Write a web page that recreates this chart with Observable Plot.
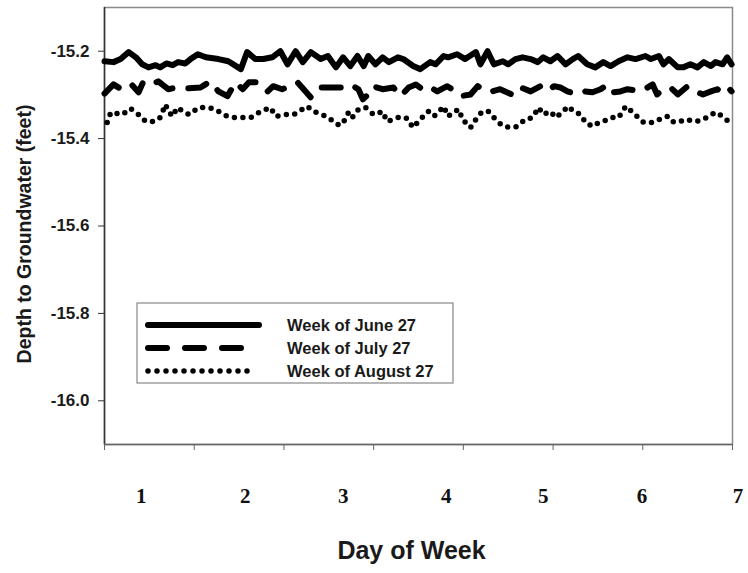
<!DOCTYPE html>
<html>
<head>
<meta charset="utf-8">
<script src="https://cdn.jsdelivr.net/npm/d3@7"></script>
<script src="https://cdn.jsdelivr.net/npm/@observablehq/plot@0.6"></script>
<style>
  html, body { margin: 0; padding: 0; background: #fff; }
  #chart { position: relative; width: 748px; height: 573px; }
</style>
</head>
<body>
<div id="chart"></div>
<script>
// ---- Data ----
const seriesNames = ["Week of June 27", "Week of July 27", "Week of August 27"];

const juneDay = [0.00,0.10,0.18,0.27,0.35,0.42,0.49,0.57,0.62,0.69,0.76,0.82,0.90,0.96,1.04,1.13,1.27,1.38,1.52,1.59,1.68,1.77,1.87,1.96,2.04,2.13,2.21,2.30,2.41,2.49,2.58,2.66,2.74,2.82,2.89,2.94,3.02,3.10,3.17,3.27,3.33,3.44,3.52,3.63,3.69,3.78,3.83,3.93,4.02,4.14,4.19,4.27,4.34,4.44,4.50,4.58,4.66,4.75,4.83,4.89,4.97,5.05,5.14,5.22,5.28,5.38,5.47,5.56,5.64,5.73,5.83,5.92,6.03,6.09,6.18,6.23,6.29,6.39,6.45,6.53,6.61,6.68,6.76,6.81,6.89,6.94,6.99];
const juneDepth = [-15.223,-15.225,-15.218,-15.202,-15.214,-15.230,-15.237,-15.232,-15.237,-15.228,-15.232,-15.225,-15.228,-15.218,-15.207,-15.214,-15.218,-15.223,-15.241,-15.202,-15.218,-15.218,-15.214,-15.200,-15.230,-15.200,-15.225,-15.202,-15.218,-15.211,-15.237,-15.214,-15.234,-15.211,-15.234,-15.211,-15.230,-15.214,-15.225,-15.214,-15.218,-15.234,-15.241,-15.225,-15.230,-15.211,-15.214,-15.207,-15.218,-15.202,-15.230,-15.200,-15.230,-15.223,-15.230,-15.218,-15.214,-15.218,-15.225,-15.214,-15.223,-15.211,-15.230,-15.218,-15.211,-15.230,-15.237,-15.225,-15.234,-15.223,-15.214,-15.218,-15.211,-15.218,-15.211,-15.230,-15.218,-15.237,-15.237,-15.230,-15.237,-15.225,-15.234,-15.225,-15.230,-15.214,-15.230];

const julyDay = [0.00,0.10,0.21,0.31,0.38,0.43,0.51,0.60,0.71,0.81,0.94,1.07,1.18,1.27,1.37,1.46,1.54,1.61,1.72,1.82,1.88,1.98,2.07,2.15,2.22,2.30,2.39,2.47,2.58,2.66,2.74,2.83,2.88,2.94,2.99,3.10,3.22,3.30,3.39,3.47,3.54,3.61,3.71,3.82,3.91,3.97,4.08,4.16,4.28,4.41,4.56,4.64,4.75,4.86,4.94,5.01,5.08,5.16,5.27,5.36,5.44,5.53,5.61,5.67,5.75,5.83,5.98,6.11,6.16,6.23,6.31,6.39,6.50,6.61,6.67,6.76,6.83,6.89,6.95,6.99];
const julyDepth = [-15.297,-15.276,-15.290,-15.278,-15.294,-15.271,-15.278,-15.269,-15.287,-15.283,-15.285,-15.283,-15.269,-15.292,-15.303,-15.271,-15.287,-15.271,-15.271,-15.292,-15.280,-15.287,-15.280,-15.271,-15.287,-15.306,-15.283,-15.283,-15.283,-15.283,-15.276,-15.287,-15.310,-15.299,-15.280,-15.287,-15.283,-15.303,-15.283,-15.276,-15.287,-15.280,-15.292,-15.280,-15.292,-15.303,-15.299,-15.280,-15.294,-15.287,-15.301,-15.283,-15.292,-15.280,-15.292,-15.280,-15.283,-15.292,-15.299,-15.292,-15.294,-15.287,-15.276,-15.294,-15.292,-15.287,-15.292,-15.276,-15.299,-15.287,-15.283,-15.299,-15.280,-15.294,-15.299,-15.292,-15.287,-15.294,-15.283,-15.292];

const augDay = [0.03,0.07,0.20,0.29,0.38,0.46,0.55,0.62,0.68,0.71,0.76,0.81,0.88,0.94,1.05,1.15,1.24,1.29,1.37,1.46,1.55,1.63,1.74,1.85,1.91,2.02,2.11,2.26,2.33,2.43,2.52,2.60,2.65,2.72,2.76,2.83,2.91,3.00,3.10,3.15,3.27,3.36,3.44,3.52,3.61,3.67,3.72,3.78,3.83,3.89,3.95,3.99,4.08,4.14,4.21,4.28,4.38,4.45,4.55,4.60,4.69,4.77,4.84,4.89,4.97,5.03,5.11,5.17,5.23,5.31,5.36,5.44,5.51,5.56,5.64,5.73,5.81,5.89,5.95,6.01,6.12,6.23,6.28,6.33,6.39,6.48,6.59,6.68,6.76,6.83,6.90,6.96];
const augDepth = [-15.363,-15.340,-15.345,-15.331,-15.345,-15.361,-15.361,-15.352,-15.322,-15.338,-15.349,-15.329,-15.338,-15.345,-15.329,-15.329,-15.333,-15.340,-15.349,-15.352,-15.352,-15.352,-15.338,-15.329,-15.349,-15.345,-15.345,-15.326,-15.338,-15.345,-15.356,-15.368,-15.368,-15.340,-15.352,-15.333,-15.329,-15.345,-15.338,-15.361,-15.352,-15.352,-15.375,-15.356,-15.338,-15.349,-15.340,-15.326,-15.349,-15.340,-15.333,-15.356,-15.375,-15.356,-15.338,-15.338,-15.361,-15.372,-15.375,-15.372,-15.356,-15.352,-15.329,-15.345,-15.338,-15.352,-15.338,-15.326,-15.338,-15.345,-15.363,-15.372,-15.363,-15.361,-15.352,-15.352,-15.326,-15.340,-15.352,-15.363,-15.363,-15.352,-15.349,-15.361,-15.363,-15.356,-15.361,-15.356,-15.345,-15.340,-15.352,-15.361];

const yTicks = [-15.2, -15.4, -15.6, -15.8, -16.0];
const xTicks = [0, 1, 2, 3, 4, 5, 6, 7];
const dayLabels = ["1", "2", "3", "4", "5", "6", "7"];
const dayLabelPos = [0.41, 1.57, 2.66, 3.81, 4.89, 5.99, 7.06];

// ---- Build tables ----
const toRows = (days, vals) => days.map((d, i) => ({day: d, depth: vals[i]}));
const june = toRows(juneDay, juneDepth);
const july = toRows(julyDay, julyDepth);
const aug = toRows(augDay, augDepth);
const labelRows = dayLabels.map((t, i) => ({t, x: dayLabelPos[i]}));

const sans = "'Liberation Sans', Arial, sans-serif";
const serif = "'Liberation Serif', 'Times New Roman', serif";

const styles = [
  {strokeWidth: 6, strokeDasharray: null},
  {strokeWidth: 6, strokeDasharray: "19,16"},
  {strokeWidth: 5.5, strokeDasharray: "0,8.5"}
];

const chart = Plot.plot({
  width: 748,
  height: 573,
  marginLeft: 104,
  marginRight: 16,
  marginTop: 7,
  marginBottom: 129,
  style: {background: "#fff", overflow: "visible"},
  x: {domain: [0, 7]},
  y: {domain: [-16.1, -15.1]},
  marks: [
    Plot.frame({stroke: "#8a8a8a", strokeWidth: 1.5}),
    Plot.axisY({ticks: yTicks, tickFormat: d => d.toFixed(1), tickSize: 6, tickPadding: 9,
      label: null, fontSize: 17, fontWeight: "bold", fontFamily: sans, stroke: "#333", fill: "#1a1a1a"}),
    Plot.axisX({ticks: xTicks, tickFormat: () => "", tickSize: 6, label: null, stroke: "#666"}),
    Plot.ruleX([0], {stroke: "#333", strokeWidth: 1.5}),
    Plot.ruleY([-16.1], {stroke: "#666", strokeWidth: 1.5}),
    Plot.text(labelRows, {x: "x", text: "t", frameAnchor: "bottom", dy: 58,
      fontSize: 21, fontWeight: "bold", fontFamily: serif, fill: "#111"}),
    Plot.text(["Day of Week"], {frameAnchor: "bottom", dx: -7, dy: 114, text: d => d,
      fontSize: 25, fontWeight: "bold", fontFamily: sans, fill: "#1a1a1a"}),
    Plot.text(["Depth to Groundwater (feet)"], {frameAnchor: "left", textAnchor: "middle", dx: -80, dy: 8, rotate: -90, text: d => d,
      fontSize: 19.5, fontWeight: "bold", fontFamily: sans, fill: "#1a1a1a"}),
    Plot.line(june, {x: "day", y: "depth", stroke: "#000", strokeWidth: styles[0].strokeWidth,
      strokeLinejoin: "round", strokeLinecap: "round"}),
    Plot.line(july, {x: "day", y: "depth", stroke: "#000", strokeWidth: styles[1].strokeWidth,
      strokeDasharray: styles[1].strokeDasharray, strokeLinejoin: "round", strokeLinecap: "round"}),
    Plot.line(aug, {x: "day", y: "depth", stroke: "#000", strokeWidth: styles[2].strokeWidth,
      strokeDasharray: styles[2].strokeDasharray, strokeLinejoin: "round", strokeLinecap: "round"})
  ]
});

document.getElementById("chart").appendChild(chart);

// ---- Legend box (inside plot area) ----
const svg = d3.select(chart);
const lg = svg.append("g").attr("class", "legend").attr("text-anchor", "start");
const box = {x: 137, y: 303, w: 316, h: 80};
lg.append("rect").attr("x", box.x).attr("y", box.y).attr("width", box.w).attr("height", box.h)
  .attr("fill", "#fff").attr("stroke", "#888").attr("stroke-width", 1.2);
const rowY = [325, 348, 371];
seriesNames.forEach((name, i) => {
  const s = styles[i];
  const ln = lg.append("line").attr("x1", 148).attr("x2", i === 2 ? 254 : 259)
    .attr("y1", rowY[i]).attr("y2", rowY[i])
    .attr("stroke", "#000").attr("stroke-width", s.strokeWidth)
    .attr("stroke-linecap", "round");
  if (s.strokeDasharray) ln.attr("stroke-dasharray", i === 2 ? "0,9" : "19,18");
  lg.append("text").attr("x", 287).attr("y", rowY[i]).attr("dy", "0.35em")
    .attr("text-anchor", "start")
    .attr("font-family", sans).attr("font-weight", "bold").attr("font-size", 16.5)
    .attr("fill", "#1a1a1a").text(name);
});
</script>
</body>
</html>
